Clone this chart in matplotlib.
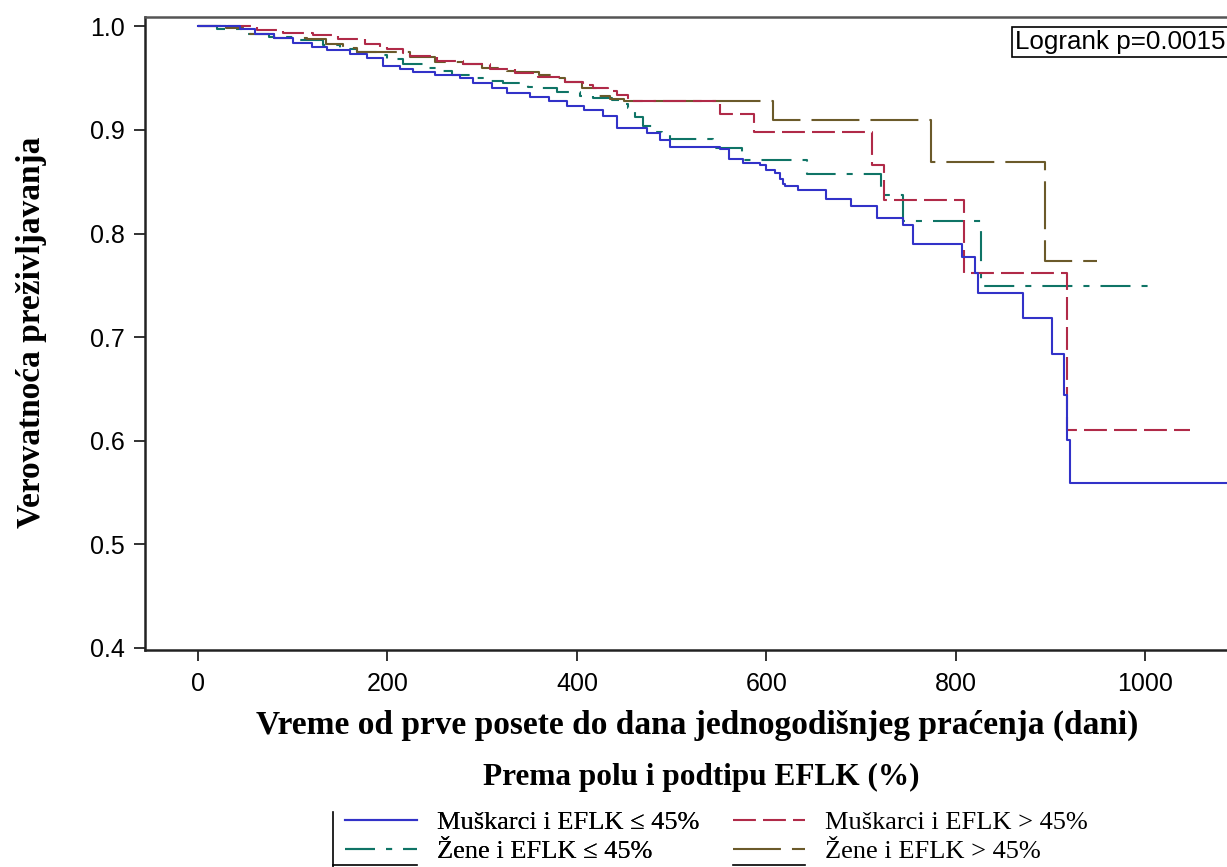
import matplotlib
matplotlib.use("Agg")
import matplotlib.pyplot as plt
from matplotlib.lines import Line2D
from matplotlib.patches import Rectangle

# ---- data ----
t_m_low = [0, 44, 60, 80, 100, 120, 136, 160, 178, 195, 213, 227, 250, 277, 290, 310, 326, 350, 371, 390,
           407, 428, 442, 474, 488, 498, 551, 561, 575, 593, 600, 609, 614, 618, 620, 633, 663, 689, 717,
           744, 755, 807, 820, 823, 871, 901, 914, 917, 921]
s_m_low = [1.0, 0.997, 0.993, 0.989, 0.984, 0.980, 0.977, 0.973, 0.969, 0.962, 0.959, 0.956, 0.953, 0.950,
           0.945, 0.940, 0.936, 0.932, 0.928, 0.923, 0.919, 0.913, 0.902, 0.897, 0.890, 0.884, 0.882, 0.872,
           0.868, 0.866, 0.861, 0.858, 0.853, 0.848, 0.846, 0.842, 0.833, 0.827, 0.815, 0.808, 0.790, 0.777,
           0.762, 0.743, 0.718, 0.684, 0.644, 0.601, 0.559]
end_m_low = 1100

t_m_high = [0, 62, 90, 121, 148, 176, 192, 200, 216, 224, 252, 280, 308, 335, 359, 387, 406, 417, 433, 442,
            454, 551, 587, 712, 724, 809, 917]
s_m_high = [1.0, 0.996, 0.994, 0.992, 0.988, 0.983, 0.980, 0.978, 0.974, 0.971, 0.967, 0.964, 0.959, 0.955,
            0.951, 0.946, 0.943, 0.940, 0.938, 0.934, 0.928, 0.915, 0.898, 0.866, 0.832, 0.762, 0.610]
end_m_high = 1047

t_z_low = [0, 20, 47, 75, 100, 132, 150, 168, 192, 199, 216, 243, 253, 268, 292, 305, 322, 348, 361, 379,
           403, 417, 437, 445, 454, 461, 470, 482, 490, 498, 544, 574, 643, 721, 744, 827]
s_z_low = [1.0, 0.997, 0.993, 0.990, 0.987, 0.982, 0.978, 0.975, 0.972, 0.968, 0.964, 0.960, 0.957, 0.953,
           0.950, 0.947, 0.945, 0.941, 0.940, 0.937, 0.933, 0.931, 0.929, 0.925, 0.921, 0.912, 0.904, 0.898,
           0.896, 0.891, 0.883, 0.871, 0.857, 0.837, 0.812, 0.749]
end_z_low = 1012

t_z_high = [0, 30, 55, 80, 115, 135, 153, 168, 224, 250, 280, 300, 326, 335, 360, 380, 387, 405, 421, 435,
            450, 607, 774, 894]
s_z_high = [1.0, 0.998, 0.993, 0.989, 0.988, 0.983, 0.979, 0.975, 0.970, 0.966, 0.964, 0.960, 0.957, 0.956,
            0.953, 0.950, 0.946, 0.940, 0.933, 0.930, 0.928, 0.910, 0.869, 0.773]
end_z_high = 949

labels = ["Muškarci i EFLK ≤ 45%", "Muškarci i EFLK > 45%", "Žene i EFLK ≤ 45%", "Žene i EFLK > 45%"]
x_ticks = [0, 200, 400, 600, 800, 1000]
y_ticks = [0.4, 0.5, 0.6, 0.7, 0.8, 0.9, 1.0]
logrank_text = "Logrank p=0.0015"
x_title = "Vreme od prve posete do dana jednogodišnjeg praćenja (dani)"
y_title = "Verovatnoća preživljavanja"
legend_title = "Prema polu i podtipu EFLK (%)"

# ---- styles ----
c_blue = "#3232c8"
c_red = "#b02a48"
c_green = "#0f7466"
c_brown = "#6b5a2a"
serif = ["Liberation Serif", "DejaVu Serif"]
sans = ["Liberation Sans", "DejaVu Sans"]

W, H = 1227, 867
fig = plt.figure(figsize=(W / 100, H / 100), dpi=100)
ax = fig.add_axes([145 / W, 1 - 650 / H, (1240 - 145) / W, (650 - 17) / H])

def ext(t, s, end):
    return list(t) + [end], list(s) + [s[-1]]

lw = 1.5
tz, sz = ext(t_z_low, s_z_low, end_z_low)
ax.step(tz, sz, where="post", color=c_green, lw=lw, dashes=(14.4, 5.3, 2.9, 5.3), label=labels[2])
th, sh = ext(t_z_high, s_z_high, end_z_high)
ax.step(th, sh, where="post", color=c_brown, lw=lw, dashes=(23, 5.3), label=labels[3])
tr, sr = ext(t_m_high, s_m_high, end_m_high)
ax.step(tr, sr, where="post", color=c_red, lw=lw, dashes=(11, 3.4), label=labels[1])
tb, sb = ext(t_m_low, s_m_low, end_m_low)
ax.step(tb, sb, where="post", color=c_blue, lw=lw, label=labels[0])

ax.set_xlim(-56, 1100)
ax.set_ylim(0.398, 1.009)
ax.set_xticks(x_ticks)
ax.set_yticks(y_ticks)
ax.set_yticklabels([f"{v:.1f}" for v in y_ticks])
for lab in ax.get_xticklabels() + ax.get_yticklabels():
    lab.set_fontfamily(sans)
    lab.set_fontsize(18)
ax.tick_params(direction="out", length=8, width=1.3, color="#222222", pad=6.5)
ax.tick_params(axis="x", pad=7.5)
for sp in ax.spines.values():
    sp.set_linewidth(1.8)
    sp.set_color("#222222")
ax.spines["top"].set_color("#555555")

# axis titles
fig.text(697 / W, 1 - 734 / H, x_title, family=serif, fontsize=24, fontweight="bold",
         ha="center", va="baseline")
fig.text(32 / W, 1 - 332 / H, y_title, family=serif, fontsize=24, fontweight="bold",
         ha="center", va="center", rotation=90)

ax.text((1015 - 145) / 1095, (650 - 30) / 633, logrank_text, transform=ax.transAxes, ha="left", va="top",
        family=sans, fontsize=18.7,
        bbox=dict(boxstyle="square,pad=0.12", fc="white", ec="black", lw=1.2))

# the reference cuts the bottom of the x tick labels
fig.add_artist(Rectangle((150 / W, 1 - 700 / H), (W - 150) / W, 8 / H, transform=fig.transFigure,
                         fc="white", ec="none", zorder=10))

# ---- legend ----
fig.text(483 / W, 1 - 785 / H, legend_title, family=serif, fontsize=22.5,
         fontweight="bold", ha="left", va="baseline")
handles = {l.get_label(): l for l in ax.get_lines()}
common = dict(frameon=False, prop={"family": serif, "size": 19}, handlelength=2.73, handletextpad=0.76,
              labelspacing=0.19, borderpad=0, borderaxespad=0, loc="center left")
leg1 = fig.legend([handles[labels[0]], handles[labels[2]]], [labels[0], labels[2]],
                  bbox_to_anchor=(345 / W, 1 - 837 / H), **common)
leg2 = fig.legend([handles[labels[1]], handles[labels[3]]], [labels[1], labels[3]],
                  bbox_to_anchor=(733 / W, 1 - 837 / H), **common)
fig.add_artist(leg1)
# partial legend frame fragments seen at the bottom of the reference
fig.add_artist(Line2D([333 / W, 333 / W], [1 - 812 / H, 0], transform=fig.transFigure, color="black", lw=1.2))
fig.add_artist(Line2D([333 / W, 417 / W], [1 - 865 / H, 1 - 865 / H], transform=fig.transFigure, color="black", lw=1.2))
fig.add_artist(Line2D([733 / W, 805 / W], [1 - 865 / H, 1 - 865 / H], transform=fig.transFigure, color="black", lw=1.2))

fig.savefig("out.png", dpi=100)
